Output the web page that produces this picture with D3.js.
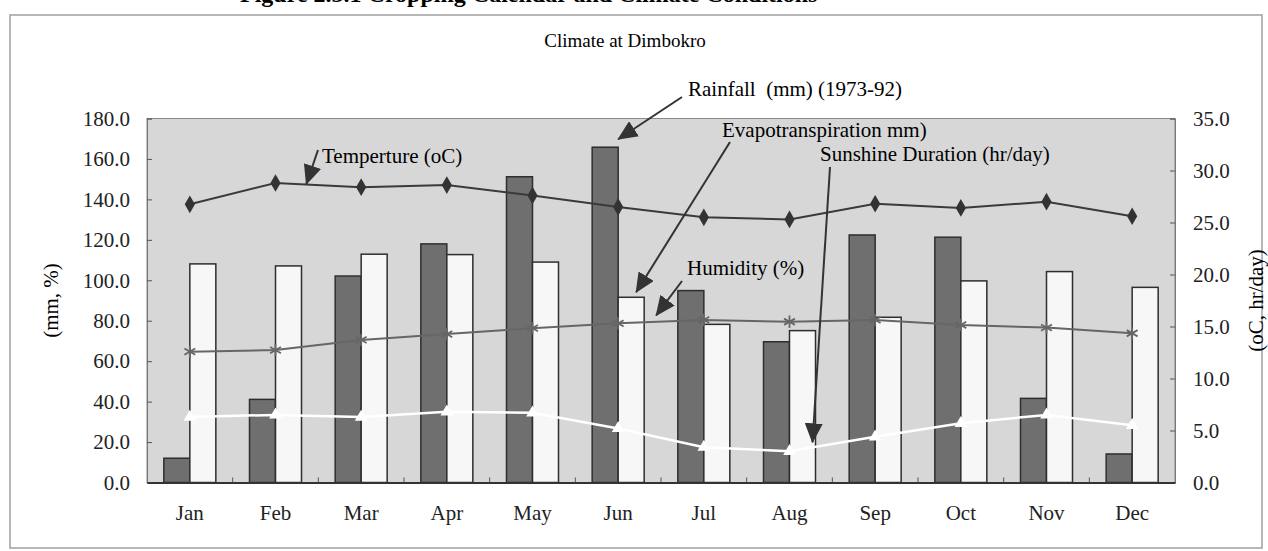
<!DOCTYPE html>
<html>
<head>
<meta charset="utf-8">
<script src="https://cdn.jsdelivr.net/npm/d3@7"></script>
<style>
  body { margin: 0; background: #fff; }
</style>
</head>
<body>
<script>
// climate at Dimbokro

var months = ["Jan", "Feb", "Mar", "Apr", "May", "Jun", "Jul", "Aug", "Sep", "Oct", "Nov", "Dec"];

// left axis (mm, %)
var rainfall = [12.0, 41.1, 102.1, 118.0, 151.2, 165.8, 94.9, 69.6, 122.4, 121.3, 41.6, 14.1];
var evapo = [108.1, 107.1, 112.9, 112.7, 109.0, 91.6, 78.2, 75.1, 81.7, 99.7, 104.3, 96.5];
var humidity = [64.7, 65.5, 70.5, 73.4, 76.3, 78.7, 80.4, 79.5, 80.4, 77.9, 76.6, 73.8];

// right axis (oC, hr/day)
var temperature = [26.75, 28.8, 28.4, 28.6, 27.6, 26.5, 25.5, 25.3, 26.8, 26.4, 27.0, 25.6];
var sunshine = [6.3, 6.5, 6.3, 6.8, 6.7, 5.2, 3.4, 3.0, 4.4, 5.7, 6.5, 5.5];

var leftTicks = [0, 20, 40, 60, 80, 100, 120, 140, 160, 180];
var rightTicks = [0, 5, 10, 15, 20, 25, 30, 35];

var FONT = "Liberation Serif";

var fullwidth = 1268, fullheight = 551;
var margin = {top: 118.5, right: 93, bottom: 68.5, left: 147};
var width = fullwidth - margin.left - margin.right;
var height = fullheight - margin.top - margin.bottom;

var svg = d3.select("body").append("svg")
    .attr("width", fullwidth)
    .attr("height", fullheight)
    .attr("font-family", FONT);

// arrow head
svg.append("defs").append("marker")
    .attr("id", "head")
    .attr("markerUnits", "userSpaceOnUse")
    .attr("viewBox", "0 0 20 18")
    .attr("refX", 19).attr("refY", 9)
    .attr("markerWidth", 20).attr("markerHeight", 18)
    .attr("orient", "auto")
  .append("path")
    .attr("d", "M0,0 L20,9 L0,18 Z")
    .style("fill", "#333");

// heading of the page, mostly above the picture
svg.append("text")
    .attr("x", 240).attr("y", 2)
    .style("font-size", "24px").style("font-weight", "bold")
    .text("Figure 2.3.1   Cropping Calendar and Climate Conditions");

// outer frame
svg.append("rect")
    .attr("x", 10).attr("y", 15)
    .attr("width", 1252).attr("height", 533)
    .style("fill", "none").style("stroke", "#a0a0a0").style("stroke-width", 1.5);

svg.append("text")
    .attr("x", 625).attr("y", 47)
    .style("text-anchor", "middle").style("font-size", "19px")
    .text("Climate at Dimbokro");

var g = svg.append("g")
    .attr("transform", "translate(" + margin.left + "," + margin.top + ")");

// scales
var x = d3.scaleBand().domain(months).range([0, width]);
var sub = d3.scaleBand().domain(["rain", "evap"]).range([-26, 26]);
var yL = d3.scaleLinear().domain([0, 180]).range([height, 0]);
var yR = d3.scaleLinear().domain([0, 35]).range([height, 0]);

function cx(m) { return x(m) + x.bandwidth() / 2; }

// plot background
g.append("rect")
    .attr("width", width).attr("height", height)
    .style("fill", "#d7d7d7").style("stroke", "#8a8a8a");

// bars
var groups = g.selectAll(".month")
    .data(months)
    .enter().append("g")
    .attr("class", "month");

groups.append("rect")
    .attr("x", function(d) { return cx(d) + sub("rain"); })
    .attr("y", function(d, i) { return yL(rainfall[i]); })
    .attr("width", sub.bandwidth())
    .attr("height", function(d, i) { return height - yL(rainfall[i]); })
    .style("fill", "#6f6f6f").style("stroke", "#2e2e2e").style("stroke-width", 1.5);

groups.append("rect")
    .attr("x", function(d) { return cx(d) + sub("evap"); })
    .attr("y", function(d, i) { return yL(evapo[i]); })
    .attr("width", sub.bandwidth())
    .attr("height", function(d, i) { return height - yL(evapo[i]); })
    .style("fill", "#f7f7f7").style("stroke", "#2e2e2e").style("stroke-width", 1.5);

// axes
var leftAxis = g.append("g")
    .call(d3.axisLeft(yL).tickValues(leftTicks).tickSize(-5).tickPadding(17).tickFormat(d3.format(".1f")));
var rightAxis = g.append("g")
    .attr("transform", "translate(" + width + ",0)")
    .call(d3.axisRight(yR).tickValues(rightTicks).tickSize(-5).tickPadding(18).tickFormat(d3.format(".1f")));
var bottomAxis = g.append("g")
    .attr("transform", "translate(0," + height + ")")
    .call(d3.axisBottom(x).tickSize(0).tickPadding(23));

[leftAxis, rightAxis, bottomAxis].forEach(function(a) {
  a.attr("font-family", FONT).attr("font-size", 21);
  a.selectAll("text").style("font-family", FONT).style("font-size", "21px").style("fill", "#222");
});
leftAxis.select(".domain").style("stroke", "#777");
rightAxis.select(".domain").style("stroke", "#777");
leftAxis.selectAll(".tick line").style("stroke", "#555");
rightAxis.selectAll(".tick line").style("stroke", "#555");
bottomAxis.select(".domain").style("stroke", "#333").style("stroke-width", 2);

// category boundary ticks
g.selectAll(".xtick")
    .data(months.slice(1))
    .enter().append("line")
    .attr("x1", function(d) { return x(d); })
    .attr("x2", function(d) { return x(d); })
    .attr("y1", height).attr("y2", height - 5)
    .style("stroke", "#555");

// axis titles
svg.append("text")
    .attr("transform", "translate(58," + (margin.top + height / 2) + ") rotate(-90)")
    .style("text-anchor", "middle").style("font-size", "21px")
    .text("(mm, %)");
svg.append("text")
    .attr("transform", "translate(1263," + (margin.top + height / 2) + ") rotate(-90)")
    .style("text-anchor", "middle").style("font-size", "21px")
    .text("(oC, hr/day)");

// lines
function drawLine(values, scale, colour, w) {
  var line = d3.line()
      .x(function(d, i) { return cx(months[i]); })
      .y(function(d) { return scale(d); });
  g.append("path")
      .datum(values)
      .attr("d", line)
      .style("fill", "none").style("stroke", colour).style("stroke-width", w);
}

drawLine(humidity, yL, "#666", 2);
drawLine(sunshine, yR, "#fff", 2.5);
drawLine(temperature, yR, "#3a3a3a", 2);

g.selectAll(".hum")
    .data(humidity)
    .enter().append("path")
    .attr("transform", function(d, i) { return "translate(" + cx(months[i]) + "," + yL(d) + ")"; })
    .attr("d", d3.symbol(d3.symbolAsterisk, 110))
    .style("fill", "none").style("stroke", "#666").style("stroke-width", 1.8);

g.selectAll(".sun")
    .data(sunshine)
    .enter().append("path")
    .attr("transform", function(d, i) { return "translate(" + cx(months[i]) + "," + yR(d) + ")"; })
    .attr("d", d3.symbol(d3.symbolTriangle, 70))
    .style("fill", "#fff");

g.selectAll(".temp")
    .data(temperature)
    .enter().append("path")
    .attr("transform", function(d, i) { return "translate(" + cx(months[i]) + "," + yR(d) + ")"; })
    .attr("d", d3.symbol(d3.symbolDiamond, 90))
    .style("fill", "#333");

// annotations: label, where the pointer starts, and where it points (in data terms)
function annotate(label, tx, ty, sx, sy, px, py) {
  svg.append("text")
      .attr("x", tx).attr("y", ty)
      .style("font-size", "21px")
      .style("white-space", "pre")
      .text(label);
  svg.append("line")
      .attr("x1", sx).attr("y1", sy)
      .attr("x2", margin.left + px).attr("y2", margin.top + py)
      .attr("marker-end", "url(#head)")
      .style("stroke", "#333").style("stroke-width", 2);
}

annotate("Rainfall  (mm) (1973-92)", 688, 96, 682, 97,
         cx("Jun"), yL(rainfall[5]) - 8);
annotate("Temperture (oC)", 322, 163, 318, 150,
         (cx("Feb") + cx("Mar")) / 2 - 12, yR((temperature[1] + temperature[2]) / 2) - 1);
annotate("Evapotranspiration mm)", 722, 137, 730, 142,
         cx("Jun") + 18, yL(evapo[5]) - 5);
annotate("Sunshine Duration (hr/day)", 820, 161, 830, 167,
         cx("Aug") + 23, yR(sunshine[7]) - 9);
annotate("Humidity (%)", 687, 275, 682, 281,
         cx("Jun") + 38, yL(humidity[5]) - 8);

svg.selectAll("text").style("font-family", FONT);
</script>
</body>
</html>
